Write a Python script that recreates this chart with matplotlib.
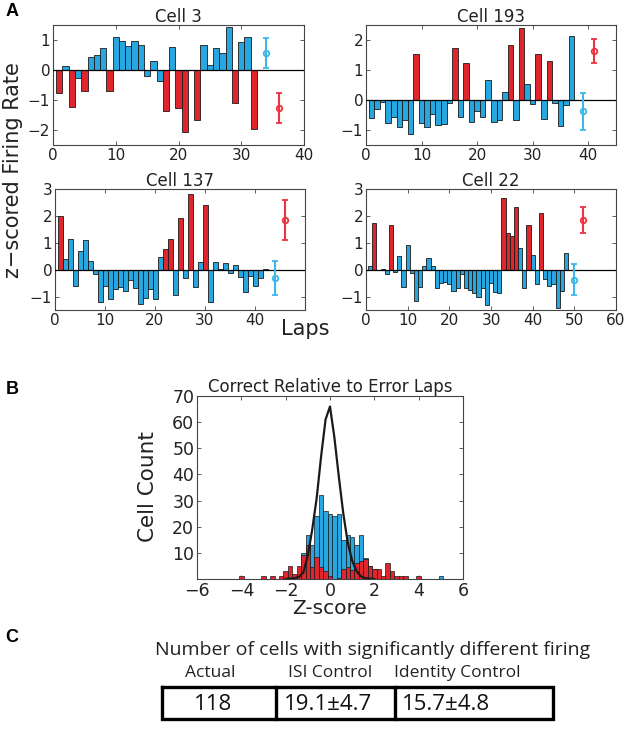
import numpy as np
import matplotlib
matplotlib.use('Agg')
import matplotlib.pyplot as plt

plt.rcParams['font.family'] = ['DejaVu Sans']
plt.rcParams['axes.unicode_minus'] = True

# ---- data: panel A (z-scored firing per lap), 1 = error lap (red)
cell3_vals = [-0.75, 0.15, -1.22, -0.27, -0.70, 0.42, 0.50, 0.75, -0.70, 1.10,
              0.97, 0.80, 0.97, 0.82, -0.20, 0.30, -0.35, -1.38, 0.78, -1.25,
              -2.05, 0.0, -1.68, 0.85, 0.17, 0.75, 0.57, 1.45, -1.10, 0.95,
              1.10, -1.95]
cell3_err = [1, 0, 1, 0, 1, 0, 0, 0, 1, 0, 0, 0, 0, 0, 0, 0, 0, 1, 0, 1,
             1, 0, 1, 0, 0, 0, 0, 0, 1, 0, 0, 1]

cell193_vals = [-0.60, -0.30, -0.07, -0.78, -0.55, -0.90, -0.68, -1.12, 1.55, -0.75,
                -0.90, -0.48, -0.82, -0.80, -0.10, 1.72, -0.55, 1.22, -0.72, -0.38,
                -0.58, 0.67, -0.72, -0.65, 0.28, 1.82, -0.68, 2.40, 0.52, -0.13,
                1.52, -0.62, 1.30, -0.10, -0.87, -0.15, 2.12]
cell193_err = [0, 0, 0, 0, 0, 0, 0, 0, 1, 0, 0, 0, 0, 0, 0, 1, 0, 1, 0, 0,
               0, 0, 0, 0, 0, 1, 0, 1, 0, 0, 1, 0, 1, 0, 0, 0, 0]

cell137_vals = [2.00, 0.40, 1.15, -0.60, 0.70, 1.10, 0.33, -0.15, -1.20, -0.62,
                -1.10, -0.72, -0.65, -0.80, -0.40, -0.68, -1.28, -1.05, -0.72, -1.08,
                0.47, 0.78, 1.15, -0.93, 1.92, -0.30, 2.80, -0.65, 0.28, 2.40,
                -1.20, 0.27, 0.02, 0.25, -0.13, 0.18, -0.28, -0.83, -0.22, -0.60,
                -0.32, 0.03]
cell137_err = [1, 0, 0, 0, 0, 0, 0, 0, 0, 0, 0, 0, 0, 0, 0, 0, 0, 0, 0, 0,
               0, 1, 1, 0, 1, 0, 1, 0, 0, 1, 0, 0, 0, 0, 0, 0, 0, 0, 0, 0,
               0, 0]

cell22_vals = [0.12, 1.75, -0.03, 0.02, -0.15, 1.67, -0.10, 0.50, -0.65, 0.93,
               -0.12, -1.15, -0.65, 0.12, 0.43, 0.12, -0.70, -0.50, -0.45, -0.52,
               -0.80, -0.68, -0.15, -0.70, -0.75, -0.85, -1.00, -0.70, -1.30, -0.50,
               -0.82, -0.88, 2.65, 1.38, 1.25, 2.32, 0.80, -0.68, 1.65, 0.55,
               -0.55, 2.10, -0.33, -0.62, -0.55, -1.42, -0.80, 0.62]
cell22_err = [0, 1, 0, 0, 0, 1, 0, 0, 0, 0, 0, 0, 0, 0, 0, 0, 0, 0, 0, 0,
              0, 0, 0, 0, 0, 0, 0, 0, 0, 0, 0, 0, 1, 1, 1, 1, 0, 0, 1, 0,
              0, 1, 0, 0, 0, 0, 0, 0]

# mean +/- spread of correct (blue) and error (red) laps
cell3_summary = {'correct': (0.58, 0.50), 'error': (-1.27, 0.50)}
cell193_summary = {'correct': (-0.38, 0.63), 'error': (1.65, 0.40)}
cell137_summary = {'correct': (-0.30, 0.64), 'error': (1.85, 0.75)}
cell22_summary = {'correct': (-0.37, 0.57), 'error': (1.85, 0.48)}

# ---- data: panel B histogram
blue_centers = [-1.2, -1.0, -0.8, -0.6, -0.4, -0.2, 0.0, 0.2, 0.4, 0.6,
                0.8, 1.0, 1.2, 1.4, 1.6, 1.8, 2.0, 5.0]
blue_counts = [10, 17, 13, 24, 32, 26, 25, 24, 25, 15,
               17, 16, 13, 17, 8, 5, 4, 1]
red_centers = [-4.0, -3.0, -2.6, -2.2, -2.0, -1.8, -1.6, -1.4, -1.2, -1.0,
               -0.8, -0.6, -0.4, -0.2, 0.0, 0.4, 0.6, 0.8, 1.0, 1.2,
               1.4, 1.6, 1.8, 2.0, 2.2, 2.4, 2.6, 2.8, 3.0, 3.2,
               3.4, 4.0]
red_counts = [1, 1, 1, 1, 3, 5, 2, 5, 9, 13,
              4.5, 8.5, 4.5, 3, 1, 0.5, 4, 4.5, 3.5, 6,
              7, 7.6, 5, 4, 4, 1, 6, 3, 1, 1,
              1, 1]
curve_x = [-2.0, -1.6, -1.4, -1.2, -1.0, -0.8, -0.6, -0.4, -0.2, 0.0,
           0.2, 0.4, 0.6, 0.8, 1.0, 1.2, 1.4, 1.6, 2.0]
curve_y = [0, 0.3, 0.8, 2.5, 9, 19, 31, 47, 61, 66,
           54, 39, 25, 14, 7, 3, 1, 0.3, 0]

# ---- data: panel C table
table_title = 'Number of cells with significantly different firing'
table_headers = ['Actual', 'ISI Control', 'Identity Control']
table_values = ['118', '19.1±4.7', '15.7±4.8']

BLUE = '#27a6df'
RED = '#e0262c'
EBLUE = '#3cb7e8'
ERED = '#ec3340'
W, H = 627.0, 730.0


def px(x, y):
    return x / W, 1 - y / H


def ax_at(l, t, r, b):
    return fig.add_axes([l / W, 1 - b / H, (r - l) / W, (b - t) / H])


def style_axes(ax, size=11):
    for s in ax.spines.values():
        s.set_color('#444444')
        s.set_linewidth(0.8)
    ax.tick_params(direction='in', length=3, width=0.6, color='#444444',
                   top=True, right=True, labelsize=size, pad=2,
                   labelcolor='#222222')


def lap_panel(ax, vals, err, summary, title, xlim, ylim, yticks):
    laps = np.arange(1, len(vals) + 1)
    cols = [RED if e else BLUE for e in err]
    ax.bar(laps, vals, width=1.0, color=cols, edgecolor='#1a1a1a',
           linewidth=0.6, zorder=2)
    ax.axhline(0, color='black', linewidth=0.9, zorder=3)
    n = len(vals)
    m, s = summary['correct']
    ax.errorbar([n + 2], [m], yerr=[s], fmt='o', color=EBLUE, mfc='none',
                ms=4, mew=1.3, elinewidth=1.5, capsize=2, capthick=1.3, zorder=4)
    m, s = summary['error']
    ax.errorbar([n + 4], [m], yerr=[s], fmt='o', color=ERED, mfc='none',
                ms=4, mew=1.3, elinewidth=1.5, capsize=2, capthick=1.3, zorder=4)
    ax.set_xlim(*xlim)
    ax.set_ylim(*ylim)
    ax.set_yticks(yticks)
    ax.set_xticks(np.arange(0, xlim[1] + 1, 10))
    ax.set_title(title, fontsize=12, pad=2, color='#222222')
    style_axes(ax)


fig = plt.figure(figsize=(W / 100, H / 100), dpi=100)

ax1 = ax_at(53, 25, 304, 145)
lap_panel(ax1, cell3_vals, cell3_err, cell3_summary, 'Cell 3',
          (0, 40), (-2.5, 1.5), [-2, -1, 0, 1])
ax2 = ax_at(366, 25, 616, 145)
lap_panel(ax2, cell193_vals, cell193_err, cell193_summary, 'Cell 193',
          (0, 45), (-1.5, 2.5), [-1, 0, 1, 2])
ax3 = ax_at(55, 189, 305, 310)
lap_panel(ax3, cell137_vals, cell137_err, cell137_summary, 'Cell 137',
          (0, 50), (-1.5, 3), [-1, 0, 1, 2, 3])
ax3.set_xticks([0, 10, 20, 30, 40, 50])
ax3.set_xticklabels(['0', '10', '20', '30', '40', ''])
ax4 = ax_at(366, 189, 616, 310)
lap_panel(ax4, cell22_vals, cell22_err, cell22_summary, 'Cell 22',
          (0, 60), (-1.5, 3), [-1, 0, 1, 2, 3])

fig.text(*px(13, 170), 'z−scored Firing Rate', rotation=90, ha='center',
         va='center', fontsize=15, color='#222222')
fig.text(*px(305, 329), 'Laps', ha='center', va='center', fontsize=15,
         color='#222222')

# ---- panel B
axh = ax_at(197, 396, 463, 579)
axh.bar(blue_centers, blue_counts, width=0.2, color=BLUE, edgecolor='#1a1a1a',
        linewidth=0.5, zorder=2)
axh.bar(red_centers, red_counts, width=0.2, color=RED, edgecolor='#1a1a1a',
        linewidth=0.5, zorder=3)
axh.plot(curve_x, curve_y, color='#1a1a1a', linewidth=1.6, zorder=4)
axh.set_xlim(-6, 6)
axh.set_ylim(0, 70)
axh.set_xticks([-6, -4, -2, 0, 2, 4, 6])
axh.set_yticks([10, 20, 30, 40, 50, 60, 70])
style_axes(axh, size=12.5)
axh.tick_params(axis='x', pad=2)
axh.set_title('Correct Relative to Error Laps', fontsize=12, pad=3,
              color='#222222')
fig.text(*px(148, 487), 'Cell Count', rotation=90, ha='center', va='center',
         fontsize=15.5, color='#222222')
fig.text(*px(330, 609), 'Z-score', ha='center', va='center', fontsize=14.5,
         color='#222222')

# ---- panel letters
for letter, (x, y) in zip('ABC', [(12, 12), (12, 390), (12, 637)]):
    fig.text(*px(x, y), letter, ha='center', va='center', fontsize=13,
             fontweight='bold', family='Liberation Sans')

# ---- panel C table
fig.text(*px(373, 650), table_title, ha='center', va='center', fontsize=14,
         family='Open Sans', color='#222222')
col_edges = [162, 276, 395, 553]
head_x = [210, 330, 457]
val_x = [213, 328, 446]
for hx, vx, head, val in zip(head_x, val_x, table_headers, table_values):
    fig.text(*px(hx, 673), head, ha='center', va='center', fontsize=12.5,
             family='Open Sans', color='#222222')
    fig.text(*px(vx, 704), val, ha='center', va='center', fontsize=16,
             family='Open Sans', color='#111111')
axt = fig.add_axes([0, 0, 1, 1], facecolor='none')
axt.set_xlim(0, W)
axt.set_ylim(H, 0)
axt.axis('off')
axt.plot([col_edges[0], col_edges[-1], col_edges[-1], col_edges[0], col_edges[0]],
         [687, 687, 719, 719, 687], color='black', linewidth=2.4,
         solid_joinstyle='miter')
for cx in col_edges[1:-1]:
    axt.plot([cx, cx], [687, 719], color='black', linewidth=2.4)

fig.savefig('out.png', dpi=100)
